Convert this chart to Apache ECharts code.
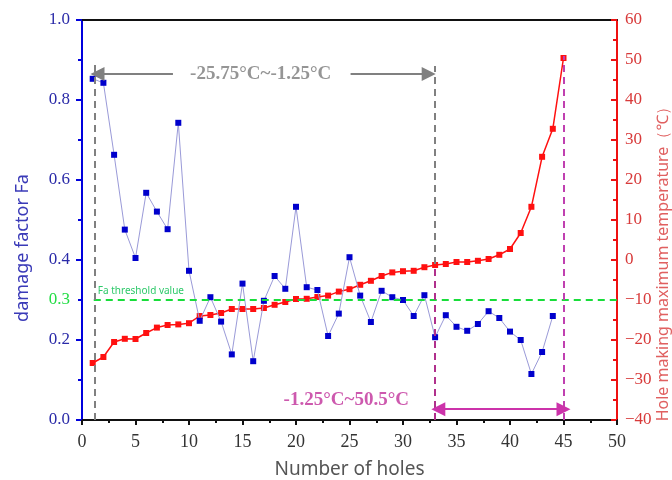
<!DOCTYPE html>
<html>
<head>
<meta charset="utf-8">
<script src="https://cdn.jsdelivr.net/npm/echarts@6/dist/echarts.min.js"></script>
<style>
  html, body { margin: 0; padding: 0; background: #fff; }
  #chart { width: 672px; height: 480px; }
</style>
</head>
<body>
<div id="chart"></div>
<script>
// hole number 1..45
const holes = [1, 2, 3, 4, 5, 6, 7, 8, 9, 10, 11, 12, 13, 14, 15, 16, 17, 18, 19, 20,
  21, 22, 23, 24, 25, 26, 27, 28, 29, 30, 31, 32, 33, 34, 35, 36, 37, 38, 39, 40,
  41, 42, 43, 44, 45];

// damage factor Fa (holes 1..44)
const damageFactor = [0.853, 0.843, 0.663, 0.476, 0.405, 0.568, 0.521, 0.477, 0.743, 0.373,
  0.248, 0.307, 0.246, 0.164, 0.341, 0.147, 0.298, 0.36, 0.328, 0.533,
  0.332, 0.325, 0.21, 0.266, 0.407, 0.311, 0.245, 0.323, 0.307, 0.30,
  0.26, 0.312, 0.207, 0.262, 0.233, 0.223, 0.24, 0.272, 0.255, 0.221,
  0.2, 0.115, 0.17, 0.26];

// hole making maximum temperature (°C)
const maxTemp = [-25.75, -24.25, -20.5, -19.7, -19.75, -18.25, -16.9, -16.25, -16.1, -15.8,
  -14, -13.75, -13.25, -12.25, -12.25, -12.25, -12, -11.2, -10.5, -9.75,
  -9.7, -9.25, -8.9, -7.9, -7.3, -6.2, -5.2, -4, -3.1, -2.8,
  -2.7, -1.8, -1.25, -1.0, -0.5, -0.5, -0.2, 0.25, 1.3, 2.75,
  6.75, 13.3, 25.8, 32.8, 50.5];

const threshold = 0.3;
const leftLabels = [0, 0.2, 0.3, 0.4, 0.6, 0.8, 1.0];
const leftTicks = [0, 0.2, 0.4, 0.6, 0.8, 1.0];
const rangeLow = '-25.75°C~-1.25°C';
const rangeHigh = '-1.25°C~50.5°C';

const serif = '"Liberation Serif", "DejaVu Serif", serif';
const sans = '"Noto Sans", "Open Sans", sans-serif';

const chart = echarts.init(document.getElementById('chart'));

const dashed = (color) => ({ color, type: [7, 5], width: 2 });

chart.setOption({
  backgroundColor: '#fff',
  animation: false,
  grid: { left: 82, right: 55, top: 20, bottom: 60, outerBoundsMode: 'none', containLabel: false },
  xAxis: [
    {
      type: 'value',
      min: 0,
      max: 50,
      interval: 5,
      name: 'Number of holes',
      nameLocation: 'middle',
      nameGap: 40,
      nameTextStyle: { fontFamily: sans, fontSize: 19, color: '#555' },
      axisLine: { onZero: false, lineStyle: { color: '#111', width: 2 } },
      axisTick: { length: 5, lineStyle: { color: '#111', width: 2 } },
      minorTick: { show: true, splitNumber: 2, length: 3, lineStyle: { color: '#111', width: 2 } },
      axisLabel: { fontFamily: serif, fontSize: 18, color: '#333', margin: 13 },
      splitLine: { show: false },
    },
    {
      type: 'value',
      position: 'top',
      min: 0,
      max: 50,
      axisLine: { show: true, onZero: false, lineStyle: { color: '#111', width: 2 } },
      axisTick: { show: false },
      axisLabel: { show: false },
      splitLine: { show: false },
    },
  ],
  yAxis: [
    {
      type: 'value',
      min: 0,
      max: 1,
      interval: 0.2,
      name: 'damage factor Fa',
      nameLocation: 'middle',
      nameGap: 50,
      nameTextStyle: { fontFamily: sans, fontSize: 18, color: '#3a3ab8', padding: [0, 56, 0, 0] },
      axisLine: { show: true, onZero: false, lineStyle: { color: '#0000dd', width: 2 } },
      axisTick: { customValues: leftTicks, length: 6, lineStyle: { color: '#0000dd', width: 2 } },
      minorTick: { show: true, splitNumber: 2, length: 4, lineStyle: { color: '#0000dd', width: 2 } },
      axisLabel: {
        customValues: leftLabels,
        fontFamily: serif,
        fontSize: 17,
        color: '#2a2aa8',
        margin: 12,
        formatter: (v) => (Math.abs(v - threshold) < 1e-9 ? '{g|0.3}' : v.toFixed(1)),
        rich: { g: { fontFamily: serif, fontSize: 17, color: '#22dd44' } },
      },
      splitLine: { show: false },
    },
    {
      type: 'value',
      min: -40,
      max: 60,
      interval: 10,
      name: 'Hole making maximum temperature（℃）',
      nameLocation: 'middle',
      nameGap: 38,
      nameMoveOverlap: false,
      nameRotate: 90,
      nameTextStyle: { fontFamily: sans, fontSize: 16, color: '#e06060', padding: [0, 80, 0, 0] },
      axisLine: { show: true, onZero: false, lineStyle: { color: '#ee1111', width: 2 } },
      axisTick: { inside: true, length: 6, lineStyle: { color: '#ee1111', width: 2 } },
      minorTick: { show: true, splitNumber: 2, length: 4, lineStyle: { color: '#ee1111', width: 2 } },
      axisLabel: {
        fontFamily: serif,
        fontSize: 17,
        color: '#d83a3a',
        margin: 8,
        formatter: (v) => String(v).replace('-', '−'),
      },
      splitLine: { show: false },
    },
  ],
  series: [
    {
      name: 'Hole making maximum temperature',
      type: 'line',
      yAxisIndex: 1,
      data: holes.map((h, i) => [h, maxTemp[i]]),
      symbol: 'rect',
      symbolSize: 6,
      itemStyle: { color: '#ff1010' },
      lineStyle: { color: '#ff1010', width: 1.5 },
      z: 3,
    },
    {
      name: 'damage factor Fa',
      type: 'line',
      data: damageFactor.map((v, i) => [holes[i], v]),
      symbol: 'rect',
      symbolSize: 6,
      itemStyle: { color: '#0000cc' },
      lineStyle: { color: '#9a9ad8', width: 1 },
      z: 4,
      markLine: {
        silent: true,
        symbol: ['none', 'none'],
        animation: false,
        data: [
          [
            {
              coord: [1.1, threshold],
              lineStyle: dashed('#18dd3a'),
              label: {
                show: true,
                position: 'insideStartTop',
                formatter: 'Fa threshold value',
                color: '#2ec96a',
                fontFamily: sans,
                fontSize: 10,
                distance: [4, 4],
              },
            },
            { coord: [50, threshold] },
          ],
          [{ coord: [1.2, 0], lineStyle: dashed('#808080'), label: { show: false } }, { coord: [1.2, 0.895] }],
          [{ coord: [33, 0.39], lineStyle: dashed('#808080'), label: { show: false } }, { coord: [33, 0.885] }],
          [{ coord: [33, 0], lineStyle: dashed('#b0308c'), label: { show: false } }, { coord: [33, 0.39] }],
          [{ coord: [45, 0], lineStyle: dashed('#c040b0'), label: { show: false } }, { coord: [45, 0.91] }],
        ],
      },
    },
    {
      name: 'arrows',
      type: 'line',
      data: [],
      markLine: {
        silent: true,
        animation: false,
        symbolSize: [14, 14],
        label: { show: false },
        data: [
          [
            { coord: [8.5, 0.865], symbol: 'none', lineStyle: { color: '#808080', width: 2, type: 'solid' } },
            { coord: [1.45, 0.865], symbol: 'triangle' },
          ],
          [
            { coord: [25.1, 0.865], symbol: 'none', lineStyle: { color: '#808080', width: 2, type: 'solid' } },
            { coord: [32.4, 0.865], symbol: 'triangle' },
          ],
          [
            { coord: [33.3, 0.027], symbol: 'triangle', lineStyle: { color: '#cc33aa', width: 2, type: 'solid' } },
            { coord: [45, 0.027], symbol: 'triangle' },
          ],
        ],
      },
    },
    {
      name: 'range labels',
      type: 'scatter',
      symbolSize: 0,
      silent: true,
      data: [
        { value: [16.7, 0.865], label: { formatter: rangeLow, color: '#7a7a7a' } },
        { value: [24.7, 0.05], label: { formatter: rangeHigh, color: '#c0309a' } },
      ],
      label: {
        show: true,
        position: 'inside',
        fontFamily: serif,
        fontWeight: 'bold',
        fontSize: 19,
      },
    },
  ],
});
</script>
</body>
</html>
